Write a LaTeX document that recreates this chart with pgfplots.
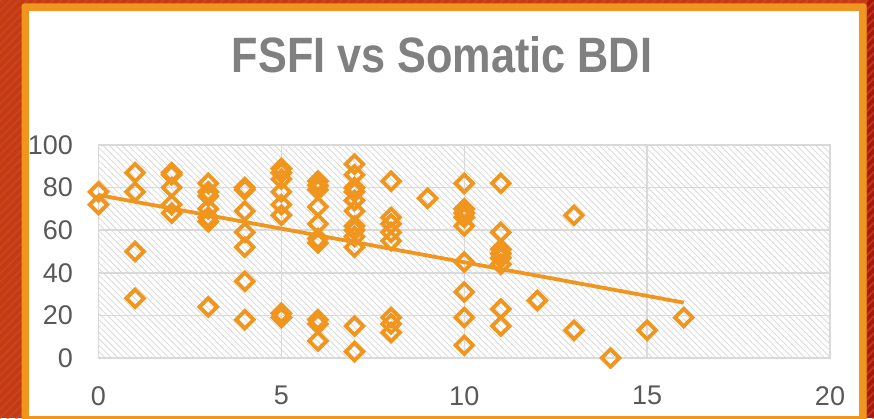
\documentclass[border=0pt]{standalone}
\usepackage{graphicx}
\usepackage{fontspec}
\setmainfont{Liberation Sans}
\usepackage{pgfplots}
\pgfplotsset{compat=1.18}
\usetikzlibrary{patterns.meta}
\definecolor{org}{HTML}{F0961E}
\definecolor{bgred}{HTML}{C33A15}
\definecolor{bgred2}{HTML}{D04A1E}
\definecolor{bgdark}{HTML}{A5190A}
\definecolor{gridgray}{HTML}{D9D9D9}
\definecolor{labelgray}{HTML}{595959}
\definecolor{titlegray}{HTML}{808080}
\definecolor{hatch}{HTML}{DADADA}
\begin{document}
\begin{tikzpicture}
\useasboundingbox (0,0) rectangle (874pt,418pt);
\fill[bgred] (0,0) rectangle (874pt,418pt);
\fill[bgdark] (866.7pt,0) rectangle (874pt,418pt);
\fill[pattern={Lines[angle=45,distance=6pt,line width=2pt]},pattern color=bgred2,opacity=0.6] (0,0) rectangle (874pt,418pt);
\fill[org, rounded corners=3pt] (21.5pt,-6pt) rectangle (866.7pt,414.7pt);
\fill[white] (29.3pt,2pt) rectangle (859.3pt,407.3pt);
\node[anchor=base, text=titlegray, font=\bfseries\fontsize{49.7}{50}\selectfont, inner sep=0pt] at (442pt,345.7pt) {\scalebox{0.87}[1]{FSFI vs Somatic BDI}};
\begin{axis}[
  at={(98.5pt,60pt)}, anchor=south west, scale only axis,
  width=731.5pt, height=213pt,
  xmin=0, xmax=20, ymin=0, ymax=100,
  xtick={0,5,10,15,20}, ytick={0,20,40,60,80,100},
  grid=major,
  major grid style={draw=gridgray, line width=1.5pt},
  axis line style={draw=gridgray, line width=1.5pt},
  major tick length=0pt,
  tick label style={font=\fontsize{27}{27}\selectfont, text=labelgray, inner sep=0pt},
  /pgf/number format/assume math mode=true,
  xticklabel shift=28pt, yticklabel shift=25.5pt,
  axis background/.style={pattern={Lines[angle=-45,distance=4.5pt,line width=0.8pt]}, pattern color=hatch},
  clip=false,
]
\addplot[only marks, draw=org, line width=3.8pt, mark=square, mark size=6.2pt,
  mark options={rotate=45, draw=org, line width=3.8pt, fill=none}] coordinates {
(0,78) (0,72)
(1,87) (1,78) (1,50) (1,28)
(2,87) (2,86) (2,80) (2,72) (2,68)
(3,82) (3,78) (3,76) (3,70) (3,66) (3,64) (3,24)
(4,80) (4,79) (4,69) (4,59) (4,52) (4,36) (4,18)
(5,89) (5,87) (5,84) (5,78) (5,72) (5,67) (5,21) (5,19)
(6,83) (6,81) (6,79) (6,71) (6,63) (6,56) (6,54) (6,18) (6,16) (6,8)
(7,91) (7,86) (7,80) (7,78) (7,74) (7,69) (7,62) (7,60) (7,57) (7,52) (7,15) (7,3)
(8,83) (8,66) (8,63) (8,59) (8,55) (8,19) (8,16) (8,12)
(9,75)
(10,82) (10,70) (10,68) (10,66) (10,62) (10,45) (10,31) (10,19) (10,6)
(11,82) (11,59) (11,51) (11,49) (11,47) (11,44) (11,23) (11,15)
(12,27)
(13,67) (13,13)
(14,0)
(15,13)
(16,19)
};
\addplot[org, line width=3.8pt, no marks] coordinates {(0,76.5) (16,26)};
\end{axis}
\end{tikzpicture}
\end{document}
